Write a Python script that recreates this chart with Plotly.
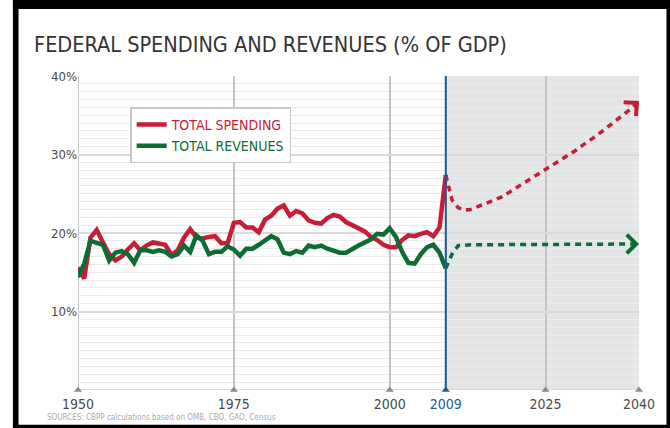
import math
import plotly.graph_objects as go

# historical values, % of GDP
years_hist = list(range(1950, 2010))
spending_hist = [15.6, 14.2, 19.4, 20.4, 18.8, 17.3, 16.5, 17.0, 17.9, 18.7,
                 17.8, 18.4, 18.8, 18.6, 18.5, 17.2, 17.8, 19.4, 20.5, 19.4,
                 19.3, 19.5, 19.6, 18.7, 18.7, 21.3, 21.4, 20.7, 20.7, 20.1,
                 21.7, 22.2, 23.1, 23.5, 22.2, 22.8, 22.5, 21.6, 21.3, 21.2,
                 21.9, 22.3, 22.1, 21.4, 21.0, 20.6, 20.2, 19.5, 19.1, 18.5,
                 18.2, 18.2, 19.1, 19.7, 19.6, 19.9, 20.1, 19.6, 20.7, 27.4]
revenues_hist = [14.4, 16.1, 19.0, 18.7, 18.5, 16.5, 17.5, 17.7, 17.3, 16.2,
                 17.8, 17.8, 17.6, 17.8, 17.6, 17.0, 17.3, 18.4, 17.6, 19.7,
                 19.0, 17.3, 17.6, 17.6, 18.3, 17.9, 17.1, 18.0, 18.0, 18.5,
                 19.0, 19.6, 19.2, 17.5, 17.3, 17.7, 17.5, 18.4, 18.2, 18.4,
                 18.0, 17.8, 17.5, 17.5, 18.0, 18.4, 18.8, 19.2, 19.9, 19.8,
                 20.6, 19.5, 17.6, 16.2, 16.1, 17.3, 18.2, 18.5, 17.5, 15.5]

# projections 2009-2040
years_proj = list(range(2009, 2041))
spending_proj = [27.4, 24.2, 23.2, 22.9, 23.0, 23.3, 23.7, 24.0, 24.3, 24.6,
                 25.1, 25.6, 26.0, 26.5, 27.0, 27.5, 28.0, 28.6, 29.1, 29.6,
                 30.1, 30.6, 31.2, 31.7, 32.3, 32.9, 33.5, 34.1, 34.7, 35.4,
                 36.0, 36.8]
revenues_proj = [15.5, 17.3, 18.4, 18.5, 18.5, 18.5, 18.5, 18.5, 18.5, 18.5,
                 18.5, 18.5, 18.5, 18.5, 18.5, 18.5, 18.5, 18.5, 18.5, 18.5,
                 18.5, 18.5, 18.5, 18.6, 18.6, 18.6, 18.6, 18.6, 18.6, 18.6,
                 18.6, 18.6]

x_ticks = [1950, 1975, 2000, 2009, 2025, 2040]
y_ticks = [10, 20, 30, 40]

RED = "#c81d36"
GREEN = "#0f6b35"
BLUE = "#1b5b98"
FONT = "DejaVu Sans Condensed, Liberation Sans Narrow, sans-serif"

W, H = 670, 428
M = dict(l=78, r=31, t=76, b=38)
X_RANGE = [1950, 2040]
Y_RANGE = [0, 40]

fig = go.Figure()

fig.add_trace(go.Scatter(x=years_hist, y=spending_hist, mode="lines",
                         name="<span style='color:%s'>TOTAL SPENDING</span>" % RED,
                         line=dict(color=RED, width=4.5)))
fig.add_trace(go.Scatter(x=years_hist, y=revenues_hist, mode="lines",
                         name="<span style='color:%s'>TOTAL REVENUES</span>" % GREEN,
                         line=dict(color=GREEN, width=4.5)))

# dotted projections
for ys, col in [(spending_proj, RED), (revenues_proj, GREEN)]:
    fig.add_trace(go.Scatter(x=years_proj, y=ys, mode="lines", showlegend=False,
                             line=dict(color=col, width=3.5, dash="6px,5px")))

# small tick triangles along the bottom
fig.add_trace(go.Scatter(x=x_ticks, y=[0] * len(x_ticks), mode="markers", showlegend=False,
                         hoverinfo="skip",
                         marker=dict(symbol="triangle-up", size=7,
                                     color=["#8a8a8a", "#8a8a8a", "#8a8a8a", BLUE, "#8a8a8a", "#8a8a8a"]),
                         cliponaxis=False))

# chevron arrow heads at the end of each projection, pointing along the last segment
px_per_x = (W - M["l"] - M["r"]) / (X_RANGE[1] - X_RANGE[0])
px_per_y = (H - M["t"] - M["b"]) / (Y_RANGE[1] - Y_RANGE[0])
arrows = []
for ys, col in [(spending_proj, RED), (revenues_proj, GREEN)]:
    dx = (years_proj[-1] - years_proj[-3]) * px_per_x
    dy = (ys[-1] - ys[-3]) * px_per_y
    n = math.hypot(dx, dy)
    arrows.append(dict(x=years_proj[-1], y=ys[-1], ax=-8 * dx / n, ay=8 * dy / n,
                       xref="x", yref="y", text="",
                       showarrow=True, arrowhead=4, arrowsize=1.2, arrowwidth=3,
                       arrowcolor=col))

shapes = [
    # projection period shading
    dict(type="rect", xref="x", yref="y", x0=2009, x1=2040, y0=0, y1=40,
         fillcolor="#e4e5e7", line_width=0, layer="below"),
    dict(type="line", xref="x", yref="y", x0=2009, x1=2009, y0=0, y1=40,
         line=dict(color=BLUE, width=2)),
    # left axis line at 1950 and bottom line
    dict(type="line", xref="x", yref="y", x0=1950, x1=1950, y0=0, y1=40,
         line=dict(color="#c4c4c4", width=2), layer="below"),
    dict(type="line", xref="x", yref="y", x0=1950, x1=2040, y0=0, y1=0,
         line=dict(color="#dadada", width=2), layer="below"),
    # frame
    dict(type="rect", xref="paper", yref="paper", x0=-0.116, x1=-0.106, y0=-0.125, y1=1.25,
         fillcolor="black", line_width=0),
    dict(type="rect", xref="paper", yref="paper", x0=-0.116, x1=1.06, y0=1.213, y1=1.25,
         fillcolor="black", line_width=0),
    dict(type="rect", xref="paper", yref="paper", x0=1.049, x1=1.06, y0=-0.125, y1=1.25,
         fillcolor="black", line_width=0),
    dict(type="rect", xref="paper", yref="paper", x0=-0.116, x1=1.06, y0=-0.125, y1=-0.111,
         fillcolor="black", line_width=0),
]

xtext = [str(v) if v != 2009 else "<span style='color:%s'>2009</span>" % BLUE for v in x_ticks]
ytext = ["%d%%" % v for v in y_ticks]

fig.update_layout(
    width=W, height=H,
    margin=M,
    paper_bgcolor="white", plot_bgcolor="white",
    font=dict(family=FONT, color="#4a4a4a"),
    shapes=shapes,
    showlegend=True,
    legend=dict(x=0.093, y=0.90, xanchor="left", yanchor="top",
                bgcolor="white", bordercolor="#c8c8c8", borderwidth=1.5,
                font=dict(family=FONT, size=14), tracegroupgap=2),
    annotations=arrows + [
        dict(text="FEDERAL SPENDING AND REVENUES (% OF GDP)", xref="paper", yref="paper",
             x=-0.082, y=1.099, xanchor="left", yanchor="middle", showarrow=False,
             font=dict(family=FONT, size=21.5, color="#333333")),
        dict(text="SOURCES: CBPP calculations based on OMB, CBO, GAO, Census", xref="paper", yref="paper",
             x=-0.058, y=-0.108, xanchor="left", yanchor="bottom", showarrow=False,
             font=dict(family=FONT, size=8, color="#aaaaaa")),
    ],
)

fig.update_xaxes(range=X_RANGE, tickvals=x_ticks, ticktext=xtext,
                 showgrid=True, gridcolor="#c4c4c4", gridwidth=2,
                 zeroline=False, showline=False, ticks="", ticklabelstandoff=4,
                 tickfont=dict(family=FONT, size=14, color="#4a4a4a"))
fig.update_yaxes(range=Y_RANGE, tickvals=y_ticks, ticktext=ytext,
                 showgrid=True, gridcolor="#dadada", gridwidth=2,
                 minor=dict(dtick=1, showgrid=True, gridcolor="#ececec", gridwidth=1),
                 zeroline=False, showline=False, ticks="",
                 tickfont=dict(family=FONT, size=13, color="#4a4a4a"))

# the page's default body margin would shift the figure by 8px
fig.write_html("out.html", config={"displayModeBar": False},
               post_script="document.body.style.margin='0';")
